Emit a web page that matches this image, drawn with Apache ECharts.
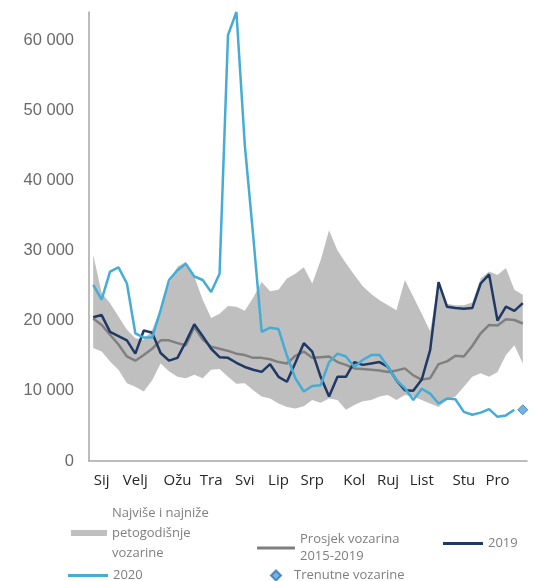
<!DOCTYPE html>
<html>
<head>
<meta charset="utf-8">
<script src="https://cdn.jsdelivr.net/npm/echarts@6/dist/echarts.min.js"></script>
<style>
  html, body { margin: 0; padding: 0; background: #ffffff; }
  #chart { width: 552px; height: 581px; }
</style>
</head>
<body>
<div id="chart"></div>
<script>
// Weeks of the year (x categories)
const weeks = ['1','2','3','4','5','6','7','8','9','10','11','12','13','14','15','16','17','18','19','20',
  '21','22','23','24','25','26','27','28','29','30','31','32','33','34','35','36','37','38','39','40',
  '41','42','43','44','45','46','47','48','49','50','51','52'];

// Month tick labels and the week (category) where each label sits
const monthNames = ['Sij','Velj','Ožu','Tra','Svi','Lip','Srp','Kol','Ruj','List','Stu','Pro'];
const monthLabelWeeks = ['2','6','11','15','19','23','27','32','36','40','45','49'];

// Y-axis tick values
const yTicks = [0, 10000, 20000, 30000, 40000, 50000, 60000];

// Five-year minimum and maximum freight rates (band)
const bandMin = [16100,15600,14200,13000,11100,10600,9900,11500,13900,12800,
  12000,11800,12300,11800,13000,13100,12000,11000,11100,10100,
  9200,8900,8200,7700,7500,7800,8700,8300,8900,8700,
  7300,8000,8500,8700,9200,9400,8700,9400,9200,8700,
  8200,7700,8700,9200,10600,12000,12500,12000,12700,15100,
  16500,13900];
const bandMax = [29400,24000,22500,20600,18700,17500,17300,18700,21700,25300,
  27700,28400,26300,23000,20400,21000,22100,22000,21400,23300,
  25500,24200,24400,26000,26700,27600,25300,28600,32900,30000,
  28200,26500,24900,23800,22900,22200,21500,25800,23400,21000,
  18500,25700,22400,22200,22200,22600,26000,27000,26500,27500,
  24400,23700];

// Average 2015-2019
const avg1519 = [20300,19400,18000,16600,14900,14300,15100,16000,17200,17200,
  16800,16500,19100,17300,16300,16000,15700,15300,15100,14700,
  14700,14500,14100,13900,15000,15600,14700,14800,14900,14100,
  13700,13200,13100,13000,12900,12700,12900,13200,12200,11600,
  11800,13800,14200,15000,14900,16400,18200,19400,19300,20200,
  20100,19600];

// 2019
const y2019 = [20500,20800,18400,17800,17200,15300,18600,18300,15400,14300,
  14700,17000,19500,17800,16000,14800,14700,14000,13400,13000,
  12700,13800,12000,11300,14000,16800,15600,12000,9200,12000,
  12000,14100,13700,13900,14100,13400,11500,10100,10000,11600,
  15800,25500,22000,21800,21700,21800,25300,26600,20000,22000,
  21400,22500];

// 2020
const y2020 = [25100,23000,27000,27600,25300,18200,17600,17600,21500,25800,
  27200,28100,26300,25800,24100,26700,60700,64000,45000,32000,
  18400,19000,18800,15000,11800,9900,10700,10800,14100,15300,
  14900,13400,14400,15100,15100,13400,11500,10400,8700,10300,
  9600,8200,8900,8800,7000,6600,6900,7400,6300,6500,
  7300,null];

// Current freight rate (diamond marker)
const currentWeek = '52';
const currentValue = 7300;

const names = {
  band: 'Najviše i najniže petogodišnje vozarine',
  avg: 'Prosjek vozarina 2015-2019',
  y19: '2019',
  y20: '2020',
  cur: 'Trenutne vozarine'
};

const bandDiff = bandMax.map((v, i) => v - bandMin[i]);
const monthAt = {};
monthLabelWeeks.forEach((w, i) => { monthAt[w] = monthNames[i]; });

const chart = echarts.init(document.getElementById('chart'), null, { renderer: 'canvas' });

const legendText = { color: '#7f7f7f', fontSize: 13, fontFamily: 'Open Sans' };

const option = {
  animation: false,
  backgroundColor: '#ffffff',
  grid: { left: 89, right: 25, top: 12, height: 449, containLabel: false },
  xAxis: {
    type: 'category',
    data: weeks,
    boundaryGap: true,
    axisLine: { show: true, lineStyle: { color: '#a6a6a6', width: 1.5 } },
    axisTick: { show: false },
    splitLine: { show: false },
    axisLabel: {
      interval: 0,
      margin: 12,
      color: '#262626',
      fontSize: 15,
      fontFamily: 'Open Sans',
      formatter: (v) => monthAt[v] || ''
    }
  },
  yAxis: {
    type: 'value',
    min: 0,
    max: 64000,
    interval: 10000,
    axisLine: { show: true, lineStyle: { color: '#a6a6a6', width: 1.5 } },
    axisTick: { show: false },
    splitLine: { show: false },
    axisLabel: {
      margin: 15,
      color: '#6b6b6b',
      fontSize: 16.5,
      fontFamily: 'Liberation Sans',
      showMaxLabel: false,
      formatter: (v) => yTicks.indexOf(v) >= 0 ? String(v).replace(/\B(?=(\d{3})+(?!\d))/g, ' ') : ''
    }
  },
  legend: [
    {
      data: [{ name: names.band, icon: 'rect' }],
      left: 71, top: 503, padding: 0, itemWidth: 36, itemHeight: 6, selectedMode: false,
      formatter: () => 'Najviše i najniže\npetogodišnje\nvozarine',
      textStyle: Object.assign({ lineHeight: 20 }, legendText)
    },
    {
      data: [{ name: names.avg, icon: 'rect' }],
      left: 257, top: 531, padding: 0, itemWidth: 38, itemHeight: 3, selectedMode: false,
      formatter: () => 'Prosjek vozarina\n2015-2019',
      textStyle: Object.assign({ lineHeight: 17 }, legendText)
    },
    {
      data: [{ name: names.y19, icon: 'rect' }],
      left: 443, top: 535, padding: 0, itemWidth: 40, itemHeight: 3, selectedMode: false,
      textStyle: Object.assign({ lineHeight: 17 }, legendText)
    },
    {
      data: [{ name: names.y20, icon: 'rect' }],
      left: 68, top: 567, padding: 0, itemWidth: 40, itemHeight: 3, selectedMode: false,
      textStyle: Object.assign({ lineHeight: 17 }, legendText)
    },
    {
      data: [{ name: names.cur, icon: 'diamond' }],
      left: 270, top: 567, padding: 0, itemWidth: 10, itemHeight: 10, selectedMode: false,
      textStyle: Object.assign({ lineHeight: 17, padding: [0, 0, 0, 8] }, legendText)
    }
  ],
  series: [
    {
      name: 'bandBase',
      type: 'line',
      stack: 'band',
      data: bandMin,
      symbol: 'none',
      silent: true,
      lineStyle: { opacity: 0 },
      itemStyle: { color: '#bfbfbf' },
      z: 1
    },
    {
      name: names.band,
      type: 'line',
      stack: 'band',
      data: bandDiff,
      symbol: 'none',
      silent: true,
      lineStyle: { opacity: 0 },
      itemStyle: { color: '#bfbfbf' },
      areaStyle: { color: '#bfbfbf', opacity: 1 },
      z: 1
    },
    {
      name: names.avg,
      type: 'line',
      data: avg1519,
      symbol: 'none',
      lineStyle: { color: '#808080', width: 2.5 },
      itemStyle: { color: '#808080' },
      z: 2
    },
    {
      name: names.y19,
      type: 'line',
      data: y2019,
      symbol: 'none',
      lineStyle: { color: '#1f3864', width: 2.5 },
      itemStyle: { color: '#1f3864' },
      z: 3
    },
    {
      name: names.y20,
      type: 'line',
      data: y2020,
      symbol: 'none',
      lineStyle: { color: '#45acd6', width: 2.5 },
      itemStyle: { color: '#45acd6' },
      z: 4
    },
    {
      name: names.cur,
      type: 'scatter',
      data: [[currentWeek, currentValue]],
      symbol: 'diamond',
      symbolSize: 10,
      itemStyle: { color: '#5b9bd5', borderColor: '#2e75b6', borderWidth: 1 },
      z: 5
    }
  ]
};

chart.setOption(option);
</script>
</body>
</html>
